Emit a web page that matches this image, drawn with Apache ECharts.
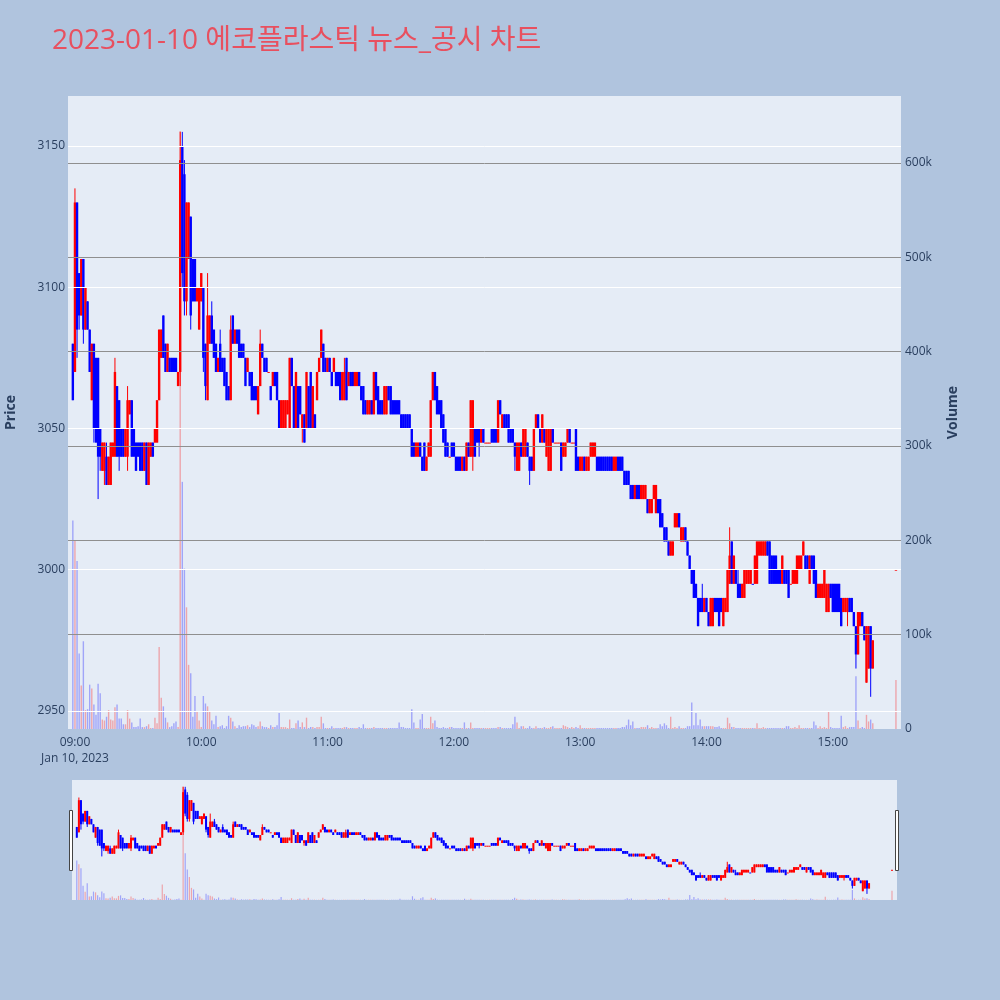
<!DOCTYPE html>
<html><head><meta charset="utf-8">
<script src="https://cdn.jsdelivr.net/npm/echarts/dist/echarts.min.js"></script>
<style>html,body{margin:0;padding:0;background:#b0c4de;}#c{width:1000px;height:1000px;}</style>
</head><body><div id="c"></div>
<script>
const titleText = '2023-01-10 에코플라스틱 뉴스_공시 차트';
const firstBarTime = '08:59';
const xTickLabels = ['09:00','10:00','11:00','12:00','13:00','14:00','15:00'];
const dateLabel = 'Jan 10, 2023';
const priceTicks = [2950, 3000, 3050, 3100, 3150];
const volumeTicks = [0, 100, 200, 300, 400, 500, 600]; // thousands
const auctionTime = '15:30';
const auctionBar = [3000, 3000, 3000, 3000]; // open, close, low, high
const auctionVolume = 52; // thousands

const opens = [3080,
3070,3130,3105,3090,3110,3085,3095,3085,3060,3080,
3075,3075,3050,3035,3035,3040,3030,3030,3040,3040,
3065,3060,3050,3050,3040,3040,3055,3060,3050,3045,
3045,3045,3045,3035,3045,3030,3040,3045,3045,3045,
3060,3075,3090,3080,3070,3075,3075,3075,3075,3065,
3070,3150,3140,3095,3110,3125,3110,3110,3095,3085,
3095,3100,3080,3060,3080,3090,3085,3080,3070,3080,
3075,3075,3070,3065,3060,3090,3080,3085,3085,3080,
3080,3075,3070,3070,3070,3065,3065,3055,3065,3080,
3075,3075,3070,3065,3065,3070,3070,3060,3050,3050,
3050,3055,3050,3075,3065,3050,3065,3065,3050,3055,
3050,3065,3070,3050,3055,3060,3070,3075,3080,3075,
3070,3075,3070,3070,3070,3070,3070,3060,3060,3075,
3065,3070,3070,3065,3065,3070,3065,3065,3060,3055,
3055,3060,3055,3070,3065,3060,3060,3055,3055,3065,
3065,3060,3060,3060,3060,3055,3055,3055,3055,3055,
3050,3045,3040,3040,3045,3040,3045,3035,3040,3040,
3060,3070,3065,3060,3060,3055,3050,3045,3040,3045,
3045,3040,3040,3040,3035,3040,3035,3045,3040,3040,
3050,3050,3050,3045,3050,3045,3045,3045,3050,3050,
3050,3045,3060,3050,3055,3055,3055,3050,3050,3045,
3035,3035,3045,3040,3040,3045,3040,3040,3035,3050,
3055,3050,3045,3050,3040,3035,3035,3050,3045,3045,
3045,3045,3040,3040,3045,3050,3045,3045,3050,3040,
3035,3035,3040,3035,3035,3040,3040,3040,3040,3040,
3040,3040,3040,3040,3040,3040,3035,3035,3040,3040,
3040,3035,3035,3035,3030,3030,3025,3030,3030,3025,
3025,3025,3025,3020,3020,3025,3020,3025,3025,3020,
3015,3015,3010,3005,3005,3015,3015,3020,3010,3010,
3015,3010,3005,3000,3000,2995,2990,2990,2990,2985,
2990,2985,2980,2980,2990,2990,2990,2990,2980,2985,
2985,2995,3010,2995,3000,2995,2995,2990,2990,2995,
2995,2995,2995,2995,2995,3005,3005,3005,3005,3010,
3010,3005,3005,3005,3000,3000,2995,3000,3000,3000,
2995,2995,2995,2995,3000,3000,3005,3005,3005,2995,
3005,3005,3000,2990,2990,2990,2990,2985,2985,2995,
2995,2995,2995,2995,2990,2985,2985,2985,2990,2990,
2985,2980,2970,2980,2985,2980,2960,2965,2980,2965];

const closes = [3060,
3130,3085,3090,3110,3085,3100,3085,3070,3080,3050,
3045,3040,3040,3045,3045,3030,3040,3045,3045,3070,
3040,3040,3040,3040,3050,3060,3060,3040,3040,3035,
3040,3035,3035,3045,3030,3045,3045,3040,3050,3060,
3085,3085,3075,3070,3080,3070,3070,3070,3070,3070,
3145,3105,3095,3130,3130,3090,3095,3095,3100,3100,
3105,3075,3065,3090,3090,3080,3075,3070,3075,3070,
3070,3065,3060,3060,3085,3080,3085,3080,3075,3075,
3075,3065,3075,3065,3060,3060,3060,3065,3080,3075,
3070,3070,3070,3060,3070,3065,3060,3050,3060,3060,
3060,3060,3075,3065,3050,3070,3050,3055,3055,3045,
3070,3050,3050,3065,3050,3070,3075,3085,3070,3070,
3075,3070,3065,3075,3065,3065,3060,3070,3070,3060,
3070,3065,3065,3070,3070,3065,3060,3055,3055,3060,
3060,3055,3070,3060,3055,3055,3055,3065,3065,3060,
3055,3055,3055,3055,3055,3050,3050,3050,3050,3050,
3040,3040,3045,3045,3040,3035,3035,3040,3045,3060,
3070,3060,3055,3055,3050,3045,3040,3040,3040,3040,
3040,3035,3035,3035,3040,3035,3045,3040,3060,3060,
3040,3045,3045,3050,3045,3045,3045,3045,3045,3045,
3045,3060,3055,3055,3050,3050,3045,3045,3045,3040,
3045,3045,3040,3050,3050,3040,3035,3035,3050,3055,
3050,3045,3055,3045,3050,3050,3050,3045,3045,3045,
3045,3035,3045,3045,3050,3045,3045,3045,3035,3035,
3040,3040,3035,3040,3040,3045,3045,3045,3035,3035,
3035,3035,3035,3035,3035,3035,3040,3040,3035,3035,
3035,3030,3030,3030,3025,3025,3030,3025,3025,3030,
3030,3030,3020,3025,3025,3030,3030,3020,3015,3015,
3010,3010,3005,3010,3010,3020,3020,3015,3015,3015,
3010,3005,3000,2995,2990,2990,2980,2985,2985,2990,
2985,2980,2990,2990,2985,2985,2980,2985,2990,2990,
3000,3005,2995,3005,2995,2990,2990,2995,3000,3000,
3000,3000,2995,3005,3010,3010,3010,3010,3010,3005,
2995,2995,2995,2995,2995,2995,3005,2995,2995,2990,
2995,3000,3000,3005,3005,3005,3010,3000,3000,3005,
3000,2995,2990,2995,2995,2995,3000,2995,2995,2990,
2985,2985,2985,2985,2980,2990,2990,2990,2985,2985,
2980,2970,2985,2985,2980,2975,2980,2980,2965,2975];

const lows = [3060,
3070,3075,3085,3090,3080,3085,3085,3070,3060,3045,
3045,3025,3035,3035,3030,3030,3030,3030,3040,3040,
3040,3035,3040,3040,3040,3035,3055,3040,3040,3035,
3040,3035,3035,3035,3030,3030,3040,3040,3045,3045,
3060,3075,3075,3070,3070,3070,3070,3070,3070,3065,
3065,3100,3090,3090,3110,3085,3095,3095,3095,3085,
3095,3070,3060,3060,3080,3080,3075,3070,3070,3070,
3070,3065,3060,3060,3060,3080,3080,3080,3075,3075,
3075,3065,3070,3065,3060,3060,3060,3055,3065,3075,
3070,3070,3070,3060,3065,3065,3060,3050,3050,3050,
3050,3055,3050,3065,3050,3050,3050,3055,3045,3045,
3050,3050,3050,3050,3050,3060,3070,3075,3070,3070,
3070,3070,3065,3070,3065,3065,3060,3060,3060,3060,
3065,3065,3065,3065,3065,3065,3060,3055,3055,3055,
3055,3055,3055,3060,3055,3055,3055,3055,3055,3060,
3055,3055,3055,3055,3055,3050,3050,3050,3050,3050,
3040,3040,3040,3040,3040,3035,3035,3035,3040,3040,
3060,3060,3055,3055,3050,3045,3040,3040,3040,3040,
3040,3035,3035,3035,3035,3035,3035,3040,3040,3035,
3040,3045,3040,3045,3045,3045,3045,3045,3045,3045,
3045,3045,3055,3050,3050,3050,3045,3045,3045,3035,
3035,3035,3040,3040,3040,3040,3030,3035,3035,3050,
3050,3045,3045,3045,3040,3035,3035,3045,3045,3045,
3045,3035,3040,3040,3045,3045,3045,3045,3035,3035,
3035,3035,3035,3035,3035,3040,3040,3040,3035,3035,
3035,3035,3035,3035,3035,3035,3035,3035,3035,3035,
3035,3030,3030,3030,3025,3025,3025,3025,3025,3025,
3025,3025,3020,3020,3020,3025,3020,3020,3015,3015,
3010,3010,3005,3005,3005,3015,3015,3015,3010,3010,
3010,3005,3000,2995,2990,2990,2980,2985,2985,2985,
2985,2980,2980,2980,2985,2985,2980,2985,2980,2985,
2985,2995,2995,2995,2995,2990,2990,2990,2990,2995,
2995,2995,2995,2995,2995,3005,3005,3005,3005,3005,
2995,2995,2995,2995,2995,2995,2995,2995,2995,2990,
2995,2995,2995,2995,3000,3000,3005,3000,3000,2995,
3000,2995,2990,2990,2990,2990,2990,2985,2985,2990,
2985,2985,2985,2985,2980,2985,2985,2980,2985,2985,
2980,2965,2970,2980,2980,2975,2960,2965,2955,2965];

const highs = [3080,
3135,3130,3105,3110,3110,3100,3095,3085,3080,3080,
3075,3075,3050,3045,3045,3045,3040,3045,3045,3075,
3065,3060,3050,3050,3050,3065,3060,3060,3050,3045,
3045,3045,3045,3045,3045,3045,3045,3045,3050,3060,
3085,3085,3090,3080,3080,3075,3075,3075,3075,3070,
3155,3155,3145,3130,3130,3125,3110,3110,3100,3100,
3105,3100,3080,3105,3090,3095,3085,3080,3075,3085,
3075,3075,3070,3065,3090,3090,3085,3085,3085,3080,
3080,3075,3075,3070,3070,3065,3065,3065,3085,3080,
3075,3075,3070,3065,3070,3070,3070,3060,3060,3060,
3060,3060,3075,3075,3065,3070,3065,3065,3055,3055,
3070,3065,3070,3065,3055,3070,3075,3085,3080,3075,
3075,3075,3070,3075,3070,3070,3070,3070,3075,3075,
3070,3070,3070,3070,3070,3070,3065,3065,3060,3060,
3060,3060,3070,3070,3065,3060,3060,3065,3065,3065,
3065,3060,3060,3060,3060,3055,3055,3055,3055,3055,
3050,3045,3045,3045,3045,3040,3045,3040,3045,3060,
3070,3070,3065,3060,3060,3055,3050,3045,3040,3045,
3045,3040,3040,3040,3040,3040,3045,3045,3060,3060,
3050,3050,3050,3050,3050,3045,3045,3045,3050,3050,
3050,3060,3060,3055,3055,3055,3055,3050,3050,3045,
3045,3045,3045,3050,3050,3045,3040,3040,3050,3055,
3055,3050,3055,3050,3050,3050,3050,3050,3045,3045,
3045,3045,3045,3045,3050,3050,3045,3045,3050,3040,
3040,3040,3040,3040,3040,3045,3045,3045,3040,3040,
3040,3040,3040,3040,3040,3040,3040,3040,3040,3040,
3040,3035,3035,3035,3030,3030,3030,3030,3030,3030,
3030,3030,3025,3025,3025,3030,3030,3025,3025,3020,
3015,3015,3010,3010,3010,3020,3020,3020,3015,3015,
3015,3010,3005,3000,3000,2995,2990,2990,2995,2990,
2990,2985,2990,2990,2990,2990,2990,2990,2990,2990,
3000,3015,3010,3005,3000,3000,2995,2995,3000,3000,
3000,3000,2995,3005,3010,3010,3010,3010,3010,3010,
3010,3005,3005,3005,3000,3000,3005,3000,3000,3000,
2995,3000,3000,3005,3005,3005,3010,3005,3005,3005,
3005,3005,3000,2995,2995,2995,3000,2995,2995,2995,
2995,2995,2995,2995,2990,2990,2990,2990,2990,2990,
2985,2980,2985,2985,2985,2980,2980,2980,2980,2975];

// volume in thousands of shares
const volumes = [221,
200,178,80,46,93,20,21,47,43,26,
15,48,38,10,9,13,20,10,9,23,
26,11,11,5,5,20,11,7,2,2,
3,11,2,2,3,5,1,1,12,6,
87,33,24,12,7,2,3,6,8,2,
634,262,170,129,68,59,13,35,19,9,
2,35,27,24,19,9,5,14,2,3,
4,1,3,14,12,8,3,1,4,2,
3,3,4,2,5,4,2,3,8,3,
2,2,1,4,2,2,4,17,2,2,
2,1,10,1,1,6,9,2,7,2,
12,1,2,2,1,2,2,13,6,1,
1,1,3,1,1,1,1,1,2,2,
1,1,1,1,1,2,1,5,1,1,
1,1,2,1,1,1,1,1,1,1,
1,1,1,1,7,2,2,1,1,1,
21,7,1,1,10,16,1,1,1,13,
6,9,2,1,1,2,1,1,2,2,
1,1,1,1,1,7,1,1,7,1,
1,1,1,1,1,1,1,1,1,1,
1,2,2,1,1,1,1,1,5,13,
7,1,3,3,1,1,3,1,1,3,
1,1,1,2,1,1,2,3,1,1,
1,1,4,3,2,1,2,1,2,1,
4,1,1,1,1,1,1,1,1,1,
1,1,1,1,1,1,1,1,1,1,
2,2,4,10,4,8,1,1,1,2,
2,2,4,1,2,1,1,1,5,3,
6,4,1,13,1,2,1,3,1,1,
1,3,3,28,4,17,4,10,3,3,
3,3,3,3,2,2,3,1,1,1,
12,6,2,2,1,1,1,1,1,1,
1,1,1,1,6,1,1,2,1,1,
1,1,1,1,1,1,1,1,3,3,
1,1,2,1,4,1,1,1,1,1,
1,8,4,1,3,1,2,1,18,2,
1,1,1,1,14,2,3,1,2,2,
2,56,9,1,2,1,15,8,10,6];

// ---------- build ----------
const toMin = s => { const p = s.split(':').map(Number); return (p[0] - 9) * 60 + p[1]; };
const UP = '#ff0000', DOWN = '#0000ff';
const X_MIN = -3.3, X_MAX = 392.4, P_MIN = 2943.6, P_MAX = 3167.7, V_MAX = 671;
const FONT = '"Open Sans", "Noto Sans CJK KR", sans-serif';
const TXT = '#2a3f5f';

const start = toMin(firstBarTime);
const rows = opens.map((o, i) => [start + i, o, closes[i], lows[i], highs[i]]);
rows.push([toMin(auctionTime)].concat(auctionBar));
const vols = volumes.concat([auctionVolume]);
const isUp = rows.map((c, i) => c[2] > c[1] ? true : c[2] < c[1] ? false : (i > 0 ? rows[i - 1][2] <= c[2] : true));
const volData = rows.map((c, i) => ({ value: [c[0], vols[i]],
  itemStyle: { color: isUp[i] ? 'rgba(255,0,0,0.3)' : 'rgba(0,0,255,0.3)' } }));

function candleRenderer(bodyW) {
  return function (params, api) {
    const x = api.value(0);
    const pO = api.coord([x, api.value(1)]);
    const pC = api.coord([x, api.value(2)]);
    const pL = api.coord([x, api.value(3)]);
    const pH = api.coord([x, api.value(4)]);
    const col = isUp[params.dataIndex] ? UP : DOWN;
    const top = Math.min(pO[1], pC[1]);
    const h = Math.max(Math.abs(pO[1] - pC[1]), 1);
    return { type: 'group', children: [
      { type: 'line', shape: { x1: pH[0], y1: pH[1], x2: pL[0], y2: pL[1] }, style: { stroke: col, lineWidth: 1 } },
      { type: 'rect', shape: { x: pO[0] - bodyW / 2, y: top, width: bodyW, height: h }, style: { fill: col } }
    ] };
  };
}

const tickMins = xTickLabels.map(toMin);
const chart = echarts.init(document.getElementById('c'));
chart.setOption({
  animation: false,
  backgroundColor: '#b0c4de',
  textStyle: { fontFamily: FONT },
  title: { text: titleText, left: 47, top: 22, textStyle: { color: '#e8505f', fontSize: 28, fontWeight: 'normal', fontFamily: FONT } },
  grid: [
    { left: 68, top: 96, width: 833, height: 633, show: true, backgroundColor: '#e5ecf6', borderWidth: 0, containLabel: false, outerBoundsMode: 'none' },
    { left: 72, top: 780, width: 825, height: 120, show: true, backgroundColor: '#e5ecf6', borderWidth: 0, containLabel: false, outerBoundsMode: 'none' }
  ],
  xAxis: [
    { type: 'value', gridIndex: 0, min: X_MIN, max: X_MAX,
      axisLine: { show: false }, axisTick: { show: false }, splitLine: { show: false },
      axisLabel: { customValues: tickMins, color: TXT, fontSize: 12, lineHeight: 16, margin: 6, fontFamily: FONT,
        formatter: v => { const i = tickMins.indexOf(v); return i === 0 ? xTickLabels[i] + '\n' + dateLabel : xTickLabels[i]; } } },
    { type: 'value', gridIndex: 1, min: X_MIN, max: X_MAX, show: false }
  ],
  yAxis: [
    { type: 'value', gridIndex: 0, position: 'left', min: P_MIN, max: P_MAX,
      axisLine: { show: false }, axisTick: { show: false }, splitLine: { show: false },
      axisLabel: { customValues: priceTicks, color: TXT, fontSize: 12, margin: 3, fontFamily: FONT, formatter: v => String(v) },
      name: 'Price', nameLocation: 'middle', nameGap: 50, nameRotate: 90,
      nameTextStyle: { color: TXT, fontSize: 14, fontWeight: 'bold', fontFamily: FONT } },
    { type: 'value', gridIndex: 0, position: 'right', min: 0, max: V_MAX,
      axisLine: { show: false }, axisTick: { show: false }, splitLine: { show: false },
      axisLabel: { customValues: volumeTicks, color: TXT, fontSize: 12, margin: 4, fontFamily: FONT,
        formatter: v => v === 0 ? '0' : v + 'k' },
      name: 'Volume', nameLocation: 'middle', nameGap: 45, nameRotate: 90,
      nameTextStyle: { color: TXT, fontSize: 14, fontWeight: 'bold', fontFamily: FONT } },
    { type: 'value', gridIndex: 1, min: P_MIN, max: P_MAX, show: false },
    { type: 'value', gridIndex: 1, min: 0, max: V_MAX, show: false }
  ],
  series: [
    { type: 'line', xAxisIndex: 0, yAxisIndex: 0, data: [], z: 1, silent: true,
      markLine: { silent: true, symbol: ['none', 'none'], label: { show: false }, animation: false,
        lineStyle: { color: '#ffffff', width: 1, type: 'solid' },
        data: priceTicks.map(p => ({ yAxis: p })) } },
    { type: 'line', xAxisIndex: 0, yAxisIndex: 1, data: [], z: 1, silent: true,
      markLine: { silent: true, symbol: ['none', 'none'], label: { show: false }, animation: false,
        lineStyle: { color: '#8f8f8f', width: 1, type: 'solid' },
        data: volumeTicks.filter(v => v > 0).map(v => ({ yAxis: v })) } },
    { type: 'bar', xAxisIndex: 0, yAxisIndex: 1, data: volData, barWidth: 1.4, z: 2, silent: true },
    { type: 'custom', xAxisIndex: 0, yAxisIndex: 0, data: rows, z: 3, silent: true,
      encode: { x: 0, y: [1, 2, 3, 4] }, renderItem: candleRenderer(2.4), clip: true },
    { type: 'bar', xAxisIndex: 1, yAxisIndex: 3, data: volData, barWidth: 1.2, z: 2, silent: true },
    { type: 'custom', xAxisIndex: 1, yAxisIndex: 2, data: rows, z: 3, silent: true,
      encode: { x: 0, y: [1, 2, 3, 4] }, renderItem: candleRenderer(2), clip: true }
  ],
  graphic: [
    { type: 'rect', shape: { x: 69.5, y: 810.5, width: 3, height: 60 }, style: { fill: '#ffffff', stroke: '#444444', lineWidth: 1 }, z: 100 },
    { type: 'rect', shape: { x: 895.5, y: 810.5, width: 3, height: 60 }, style: { fill: '#ffffff', stroke: '#444444', lineWidth: 1 }, z: 100 }
  ]
});
</script></body></html>
